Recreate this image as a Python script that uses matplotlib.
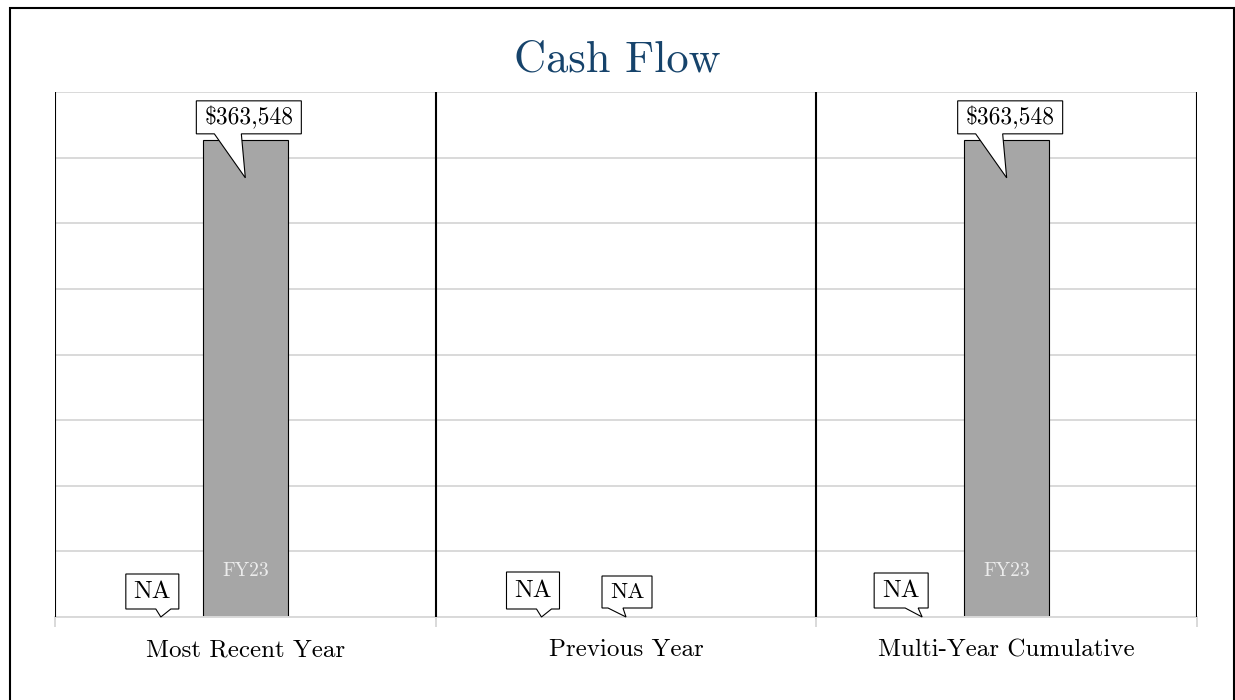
import numpy as np
import matplotlib
matplotlib.use("Agg")
import matplotlib.pyplot as plt
import matplotlib.transforms as mtransforms
from matplotlib.patches import Polygon, Rectangle

plt.rcParams['font.family'] = ['cmr10', 'DejaVu Serif']
plt.rcParams['axes.formatter.use_mathtext'] = True

# Data
groups = ['Most Recent Year', 'Previous Year', 'Multi-Year Cumulative']
series = ['FY22', 'FY23']
values = {
    'FY22': [None, None, None],
    'FY23': [363548, None, 363548],
}
y_max = 400000
y_step = 50000

# Style
BAR_W = 0.222
BAR_COLOR = '#a6a6a6'
GRID_COLOR = '#d9d9d9'
TITLE_COLOR = '#16436b'

# bubble shapes in pixels relative to the tip: (left, right, bottom, top, base0, base1, tip_dy, fontsize)
VALUE_BUBBLE = (-49, 56, 6, 39, -31, -4, -38, 17)
NA_BUBBLES = {
    (0, 'FY22'): (-35, 18, 8, 43, -5, 10, 0, 18),
    (1, 'FY22'): (-35, 18, 8, 45, -5, 10, 0, 18),
    (1, 'FY23'): (-24, 26, 9, 41, -18, -3, 0, 16.5),
    (2, 'FY22'): (-48, 6, 9, 44, -17, -4, 0, 18),
}


def bubble(ax, x, y, text, shape):
    left, right, bottom, top, b0, b1, tip_dy, fs = shape
    fig = ax.figure
    trans = (mtransforms.Affine2D().scale(1 / fig.dpi) + fig.dpi_scale_trans
             + mtransforms.ScaledTranslation(x, y, ax.transData))
    pts = [(left, bottom), (b0, bottom), (0, tip_dy), (b1, bottom),
           (right, bottom), (right, top), (left, top)]
    ax.add_patch(Polygon(pts, closed=True, facecolor='white', edgecolor='black',
                         linewidth=0.8, transform=trans, clip_on=False, zorder=5))
    ax.text((left + right) / 2, (bottom + top) / 2, text, transform=trans,
            ha='center', va='center', fontsize=fs, zorder=6, clip_on=False)


fig = plt.figure(figsize=(12.35, 7), dpi=100)
ax = fig.add_axes([55 / 1235, 1 - 617 / 700, (1197 - 55) / 1235, (617 - 92) / 700])
ax.set_xlim(0, len(groups))
ax.set_ylim(0, y_max)

ax.set_yticks(np.arange(0, y_max + 1, y_step))
ax.yaxis.grid(True, color=GRID_COLOR, linewidth=1.4)
ax.tick_params(axis='y', length=0, labelleft=False)
ax.set_axisbelow(True)
for s in ['top', 'left', 'right']:
    ax.spines[s].set_visible(False)
ax.spines['bottom'].set_color(GRID_COLOR)
ax.spines['bottom'].set_linewidth(1.4)

ax.set_xticks(np.arange(len(groups) + 1))
ax.set_xticklabels([''] * (len(groups) + 1))
ax.tick_params(axis='x', which='major', length=7, width=1.4, color=GRID_COLOR)
ax.set_xticks(np.arange(len(groups)) + 0.5, minor=True)
ax.set_xticklabels(groups, minor=True, fontsize=18)
ax.tick_params(axis='x', which='minor', length=0, pad=16)

for b in range(len(groups) + 1):
    ax.axvline(b, color='black', linewidth=1.5, zorder=3)

for si, name in enumerate(series):
    offset = 0.5 - BAR_W * (len(series) - 1 - si)
    for gi, v in enumerate(values[name]):
        x = gi + offset
        if v is None:
            bubble(ax, x, 0, 'NA', NA_BUBBLES[(gi, name)])
            continue
        ax.bar(x, v, width=BAR_W, color=BAR_COLOR, edgecolor='black',
               linewidth=0.8, zorder=2)
        ax.annotate(name, xy=(x, 0), xytext=(0, 33), textcoords='offset points',
                    ha='center', va='center', fontsize=14, color='#ececec', zorder=4)
        bubble(ax, x, v, '\\$' + f'{v:,}', VALUE_BUBBLE)

fig.text(0.5, 1 - 60 / 700, 'Cash Flow', ha='center', va='center',
         fontsize=32, color=TITLE_COLOR)

fig.add_artist(Rectangle((10 / 1235, -0.02), 1224 / 1235, 1.02 - 8 / 700,
                         transform=fig.transFigure, fill=False,
                         edgecolor='black', linewidth=1.5))

fig.savefig('out.png', dpi=100)
